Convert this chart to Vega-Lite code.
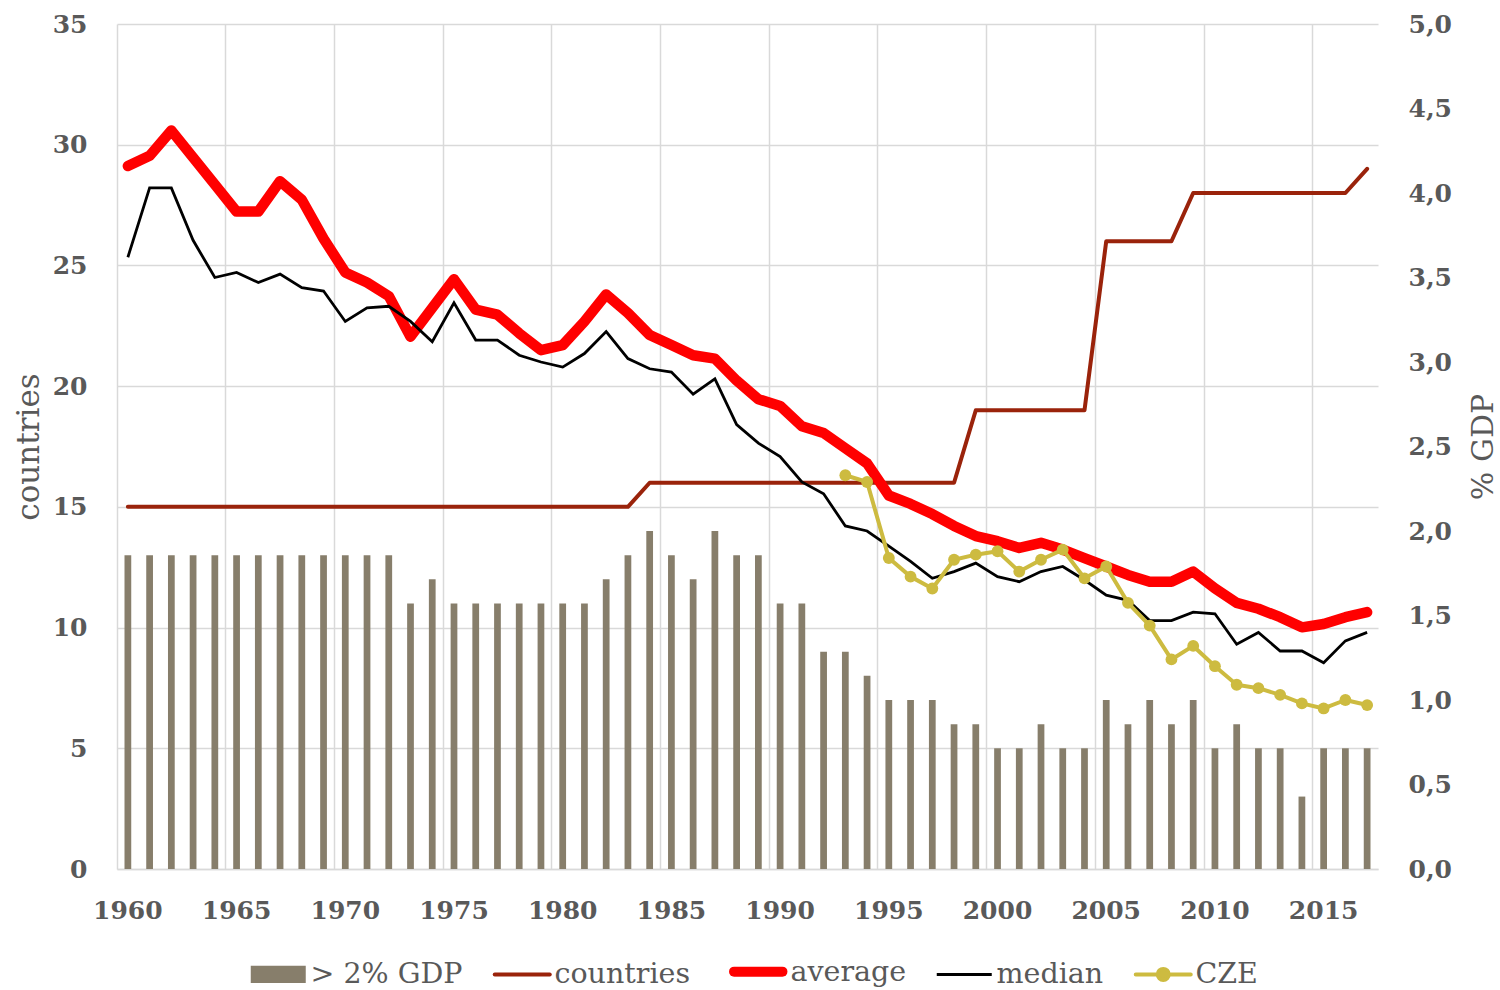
{
  "$schema": "https://vega.github.io/schema/vega-lite/v6.json",
  "width": 1261,
  "height": 845,
  "autosize": {"type": "none"},
  "padding": {"left": 117, "top": 24, "right": 122, "bottom": 121},
  "background": "white",
  "config": {"view": {"stroke": null}, "font": "DejaVu Serif"},
  "data": {
    "values": [
      {"year": 1960, "gt2": 13, "countries": 15, "average": 4.16, "median": 3.62, "cze": null},
      {"year": 1961, "gt2": 13, "countries": 15, "average": 4.22, "median": 4.03, "cze": null},
      {"year": 1962, "gt2": 13, "countries": 15, "average": 4.37, "median": 4.03, "cze": null},
      {"year": 1963, "gt2": 13, "countries": 15, "average": 4.21, "median": 3.72, "cze": null},
      {"year": 1964, "gt2": 13, "countries": 15, "average": 4.05, "median": 3.50, "cze": null},
      {"year": 1965, "gt2": 13, "countries": 15, "average": 3.89, "median": 3.53, "cze": null},
      {"year": 1966, "gt2": 13, "countries": 15, "average": 3.89, "median": 3.47, "cze": null},
      {"year": 1967, "gt2": 13, "countries": 15, "average": 4.07, "median": 3.52, "cze": null},
      {"year": 1968, "gt2": 13, "countries": 15, "average": 3.96, "median": 3.44, "cze": null},
      {"year": 1969, "gt2": 13, "countries": 15, "average": 3.73, "median": 3.42, "cze": null},
      {"year": 1970, "gt2": 13, "countries": 15, "average": 3.53, "median": 3.24, "cze": null},
      {"year": 1971, "gt2": 13, "countries": 15, "average": 3.47, "median": 3.32, "cze": null},
      {"year": 1972, "gt2": 13, "countries": 15, "average": 3.39, "median": 3.33, "cze": null},
      {"year": 1973, "gt2": 11, "countries": 15, "average": 3.15, "median": 3.24, "cze": null},
      {"year": 1974, "gt2": 12, "countries": 15, "average": 3.32, "median": 3.12, "cze": null},
      {"year": 1975, "gt2": 11, "countries": 15, "average": 3.49, "median": 3.35, "cze": null},
      {"year": 1976, "gt2": 11, "countries": 15, "average": 3.31, "median": 3.13, "cze": null},
      {"year": 1977, "gt2": 11, "countries": 15, "average": 3.28, "median": 3.13, "cze": null},
      {"year": 1978, "gt2": 11, "countries": 15, "average": 3.17, "median": 3.04, "cze": null},
      {"year": 1979, "gt2": 11, "countries": 15, "average": 3.07, "median": 3.00, "cze": null},
      {"year": 1980, "gt2": 11, "countries": 15, "average": 3.10, "median": 2.97, "cze": null},
      {"year": 1981, "gt2": 11, "countries": 15, "average": 3.24, "median": 3.05, "cze": null},
      {"year": 1982, "gt2": 12, "countries": 15, "average": 3.40, "median": 3.18, "cze": null},
      {"year": 1983, "gt2": 13, "countries": 15, "average": 3.29, "median": 3.02, "cze": null},
      {"year": 1984, "gt2": 14, "countries": 16, "average": 3.16, "median": 2.96, "cze": null},
      {"year": 1985, "gt2": 13, "countries": 16, "average": 3.10, "median": 2.94, "cze": null},
      {"year": 1986, "gt2": 12, "countries": 16, "average": 3.04, "median": 2.81, "cze": null},
      {"year": 1987, "gt2": 14, "countries": 16, "average": 3.02, "median": 2.90, "cze": null},
      {"year": 1988, "gt2": 13, "countries": 16, "average": 2.89, "median": 2.63, "cze": null},
      {"year": 1989, "gt2": 13, "countries": 16, "average": 2.78, "median": 2.52, "cze": null},
      {"year": 1990, "gt2": 11, "countries": 16, "average": 2.74, "median": 2.44, "cze": null},
      {"year": 1991, "gt2": 11, "countries": 16, "average": 2.62, "median": 2.29, "cze": null},
      {"year": 1992, "gt2": 9, "countries": 16, "average": 2.58, "median": 2.22, "cze": null},
      {"year": 1993, "gt2": 9, "countries": 16, "average": 2.49, "median": 2.03, "cze": 2.33},
      {"year": 1994, "gt2": 8, "countries": 16, "average": 2.40, "median": 2.00, "cze": 2.29},
      {"year": 1995, "gt2": 7, "countries": 16, "average": 2.21, "median": 1.91, "cze": 1.84},
      {"year": 1996, "gt2": 7, "countries": 16, "average": 2.16, "median": 1.82, "cze": 1.73},
      {"year": 1997, "gt2": 7, "countries": 16, "average": 2.10, "median": 1.72, "cze": 1.66},
      {"year": 1998, "gt2": 6, "countries": 16, "average": 2.03, "median": 1.76, "cze": 1.83},
      {"year": 1999, "gt2": 6, "countries": 19, "average": 1.97, "median": 1.81, "cze": 1.86},
      {"year": 2000, "gt2": 5, "countries": 19, "average": 1.94, "median": 1.73, "cze": 1.88},
      {"year": 2001, "gt2": 5, "countries": 19, "average": 1.90, "median": 1.70, "cze": 1.76},
      {"year": 2002, "gt2": 6, "countries": 19, "average": 1.93, "median": 1.76, "cze": 1.83},
      {"year": 2003, "gt2": 5, "countries": 19, "average": 1.89, "median": 1.79, "cze": 1.89},
      {"year": 2004, "gt2": 5, "countries": 19, "average": 1.84, "median": 1.71, "cze": 1.72},
      {"year": 2005, "gt2": 7, "countries": 26, "average": 1.79, "median": 1.62, "cze": 1.79},
      {"year": 2006, "gt2": 6, "countries": 26, "average": 1.74, "median": 1.59, "cze": 1.575},
      {"year": 2007, "gt2": 7, "countries": 26, "average": 1.70, "median": 1.47, "cze": 1.44},
      {"year": 2008, "gt2": 6, "countries": 26, "average": 1.70, "median": 1.47, "cze": 1.24},
      {"year": 2009, "gt2": 7, "countries": 28, "average": 1.76, "median": 1.52, "cze": 1.32},
      {"year": 2010, "gt2": 5, "countries": 28, "average": 1.66, "median": 1.51, "cze": 1.20},
      {"year": 2011, "gt2": 6, "countries": 28, "average": 1.575, "median": 1.33, "cze": 1.09},
      {"year": 2012, "gt2": 5, "countries": 28, "average": 1.54, "median": 1.40, "cze": 1.07},
      {"year": 2013, "gt2": 5, "countries": 28, "average": 1.49, "median": 1.29, "cze": 1.03},
      {"year": 2014, "gt2": 3, "countries": 28, "average": 1.43, "median": 1.29, "cze": 0.98},
      {"year": 2015, "gt2": 5, "countries": 28, "average": 1.45, "median": 1.22, "cze": 0.95},
      {"year": 2016, "gt2": 5, "countries": 28, "average": 1.49, "median": 1.35, "cze": 1.00},
      {"year": 2017, "gt2": 5, "countries": 29, "average": 1.52, "median": 1.40, "cze": 0.97}
    ]
  },
  "encoding": {
    "x": {
      "field": "year",
      "type": "ordinal",
      "scale": {"paddingInner": 0, "paddingOuter": 0},
      "axis": {
        "values": [1960, 1965, 1970, 1975, 1980, 1985, 1990, 1995, 2000, 2005, 2010, 2015],
        "grid": true,
        "gridColor": "#D9D9D9",
        "gridWidth": 1.5,
        "bandPosition": 0,
        "ticks": false,
        "domain": true,
        "domainColor": "#D9D9D9",
        "domainWidth": 1.5,
        "labelAngle": 0,
        "labelFont": "DejaVu Serif",
        "labelFontWeight": "bold",
        "labelFontSize": 25,
        "labelColor": "#595959",
        "labelPadding": 29,
        "title": null
      }
    }
  },
  "layer": [
    {
      "layer": [
        {
          "mark": {"type": "bar", "width": {"band": 0.31}},
          "encoding": {
            "y": {
              "field": "gt2",
              "type": "quantitative",
              "scale": {"domain": [0, 35], "nice": false},
              "title": "countries",
              "axis": {
                "orient": "left",
                "values": [0, 5, 10, 15, 20, 25, 30, 35],
                "grid": true,
                "gridColor": "#D9D9D9",
                "gridWidth": 1.5,
                "domain": false,
                "ticks": false,
                "labelFont": "DejaVu Serif",
                "labelFontWeight": "bold",
                "labelFontSize": 25,
                "labelColor": "#595959",
                "labelPadding": 30,
                "titleFont": "DejaVu Serif",
                "titleFontWeight": "normal",
                "titleFontSize": 31,
                "titleColor": "#595959",
                "titleAngle": 270,
                "titleAlign": "center",
                "titleBaseline": "alphabetic",
                "titleX": -79,
                "titleY": 422.5
              }
            },
            "color": {
              "datum": "> 2% GDP",
              "type": "nominal",
              "scale": {
                "domain": ["> 2% GDP", "countries", "average", "median", "CZE"],
                "range": ["#877E6B", "#9A230B", "#FF0000", "#000000", "#CDBB40"]
              },
              "legend": {
                "orient": "none",
                "legendX": 147,
                "legendY": 933,
                "direction": "horizontal",
                "title": null,
                "symbolSize": 3025,
                "labelFont": "DejaVu Serif",
                "labelFontSize": 28.5,
                "labelColor": "#595959",
                "labelOffset": 18,
                "labelLimit": 400,
                "columnPadding": 23,
                "encode": {
                  "symbols": {
                    "update": {
                      "shape": {"signal": "datum.value == '> 2% GDP' ? 'M-1,-0.31H1V0.31H-1Z' : datum.value == 'CZE' ? 'M-1,0H1M0.2,0A0.2,0.2 0 1 1 -0.2,0A0.2,0.2 0 1 1 0.2,0Z' : datum.value == 'average' ? 'M-0.88,0H0.88' : 'M-1,0H1'"},
                      "fill": {"signal": "datum.value == '> 2% GDP' ? '#877E6B' : datum.value == 'CZE' ? '#CDBB40' : 'transparent'"},
                      "stroke": {"signal": "datum.value == '> 2% GDP' ? '#877E6B' : datum.value == 'countries' ? '#9A230B' : datum.value == 'average' ? '#FF0000' : datum.value == 'median' ? '#000000' : '#CDBB40'"},
                      "strokeWidth": {"signal": "datum.value == 'average' ? 10 : datum.value == 'median' ? 3 : datum.value == '> 2% GDP' ? 0 : 4"},
                      "strokeCap": {"signal": "datum.value == 'median' ? 'butt' : 'round'"},
                      "opacity": {"value": 1}
                    }
                  }
                }
              }
            }
          }
        },
        {
          "mark": {"type": "line", "strokeWidth": 4, "strokeCap": "round", "strokeJoin": "round"},
          "encoding": {
            "y": {"field": "countries", "type": "quantitative", "title": "countries"},
            "color": {"datum": "countries", "type": "nominal"}
          }
        }
      ]
    },
    {
      "layer": [
        {
          "mark": {"type": "line", "strokeWidth": 10.5, "strokeCap": "round", "strokeJoin": "round"},
          "encoding": {
            "y": {
              "field": "average",
              "type": "quantitative",
              "scale": {"domain": [0, 5], "nice": false},
              "title": "% GDP",
              "axis": {
                "orient": "right",
                "values": [0, 0.5, 1, 1.5, 2, 2.5, 3, 3.5, 4, 4.5, 5],
                "labelExpr": "replace(format(datum.value, '.1f'), '.', ',')",
                "grid": false,
                "domain": false,
                "ticks": false,
                "labelFont": "DejaVu Serif",
                "labelFontWeight": "bold",
                "labelFontSize": 25,
                "labelColor": "#595959",
                "labelPadding": 30,
                "titleFont": "DejaVu Serif",
                "titleFontWeight": "normal",
                "titleFontSize": 30,
                "titleColor": "#595959",
                "titleAngle": 270,
                "titleAlign": "center",
                "titleBaseline": "alphabetic",
                "titleX": 114,
                "titleY": 422.5
              }
            },
            "color": {"datum": "average", "type": "nominal"}
          }
        },
        {
          "mark": {"type": "line", "strokeWidth": 2.8, "strokeJoin": "miter"},
          "encoding": {
            "y": {"field": "median", "type": "quantitative", "title": "% GDP"},
            "color": {"datum": "median", "type": "nominal"}
          }
        },
        {
          "mark": {"type": "line", "strokeWidth": 4, "strokeJoin": "round", "point": {"filled": true, "size": 140, "opacity": 1}},
          "encoding": {
            "y": {"field": "cze", "type": "quantitative", "title": "% GDP"},
            "color": {"datum": "CZE", "type": "nominal"}
          }
        }
      ]
    }
  ],
  "resolve": {"scale": {"y": "independent"}}
}
